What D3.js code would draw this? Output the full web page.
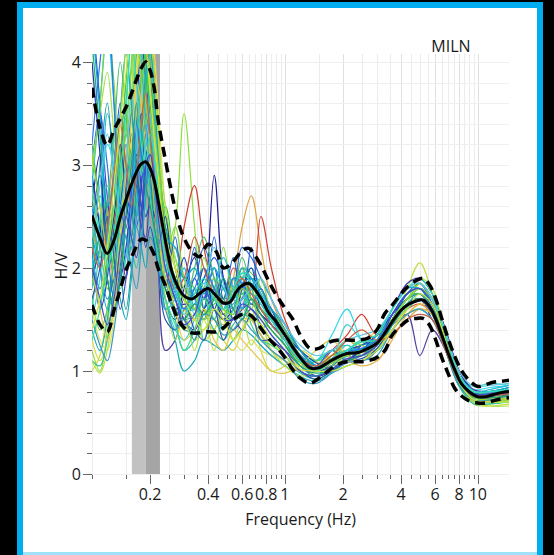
<!DOCTYPE html>
<html><head><meta charset="utf-8">
<script src="https://cdn.jsdelivr.net/npm/d3@7"></script>
<style>html,body{margin:0;padding:0;background:#000;}svg{display:block;}</style>
</head><body>
<script>
// ---------- DATA ----------
const freqs = [0.10,0.11,0.12,0.13,0.14,0.15,0.16,0.17,0.18,0.19,0.20,0.21,0.22,0.24,0.26,0.28,0.30,0.33,0.36,0.40,0.44,0.48,0.52,0.56,0.60,0.65,0.70,0.76,0.82,0.90,1.0,1.1,1.2,1.35,1.5,1.7,1.9,2.1,2.4,2.7,3.0,3.3,3.6,4.0,4.4,4.8,5.2,5.6,6.0,6.5,7.0,7.6,8.2,9.0,10,11,12,13.2,14.5];
const meanHV = [2.51,2.29,2.14,2.27,2.49,2.66,2.81,2.93,3.01,3.03,2.97,2.85,2.66,2.27,1.96,1.81,1.73,1.70,1.75,1.80,1.73,1.66,1.67,1.77,1.83,1.85,1.79,1.69,1.57,1.48,1.35,1.23,1.13,1.03,1.03,1.09,1.14,1.17,1.18,1.22,1.27,1.37,1.48,1.59,1.65,1.68,1.69,1.63,1.52,1.35,1.18,1.01,0.88,0.80,0.75,0.75,0.77,0.79,0.80];
const upperHV = [3.75,3.36,3.19,3.34,3.45,3.56,3.69,3.83,3.94,4.00,3.92,3.75,3.44,3.05,2.71,2.45,2.29,2.16,2.11,2.23,2.16,2.00,2.03,2.10,2.17,2.19,2.12,2.01,1.88,1.74,1.61,1.50,1.35,1.22,1.22,1.28,1.30,1.30,1.30,1.32,1.40,1.56,1.64,1.75,1.83,1.88,1.90,1.84,1.72,1.51,1.32,1.14,1.01,0.91,0.85,0.87,0.89,0.90,0.91];
const lowerHV = [1.64,1.45,1.38,1.59,1.79,1.98,2.10,2.21,2.28,2.27,2.21,2.13,2.00,1.83,1.64,1.50,1.42,1.37,1.37,1.38,1.38,1.42,1.48,1.52,1.55,1.55,1.50,1.40,1.32,1.24,1.13,1.01,0.93,0.88,0.93,1.01,1.07,1.09,1.09,1.10,1.13,1.20,1.35,1.44,1.50,1.51,1.51,1.45,1.32,1.13,0.98,0.83,0.76,0.71,0.69,0.69,0.71,0.73,0.74];

const windowFreqs = [0.10,0.11,0.12,0.13,0.14,0.15,0.16,0.17,0.18,0.19,0.20,0.22,0.24,0.27,0.30,0.34,0.38,0.43,0.48,0.54,0.60,0.67,0.75,0.85,1.0,1.2,1.45,1.75,2.1,2.5,3.0,3.6,4.3,5.0,5.8,6.8,8.0,9.5,11.5,14.5];
const windowColors = ["#2040c0","#20b8e0","#40c840","#90e040","#1a1a90","#20a0a0","#d8d840","#e0a040","#d04030","#40d0d0",
  "#3070e0","#30c080","#c0e040","#1a2a9a","#20b060","#5040a0","#10c0f0","#50d050","#2090c0","#e0e060",
  "#2850d0","#30c0a0","#30d8e8","#60d060","#3a3ab0","#e8b850","#18a8b8","#a8e050","#2aa0e0","#40c860",
  "#2060d0","#38c8b0","#80d840","#1838a8","#b8e048","#28b8d8","#50c070","#3050b8","#e0c848","#10a8d0",
  "#40d890","#2878e8","#98d838","#3898c0","#60c8e0","#20a070","#c86040","#30e0c0","#4848c8","#d0e838"];
const windowHV = [
[2.2,1.6,1.9,3.0,3.6,2.8,2.5,3.4,4.2,3.8,3.0,2.1,1.9,1.7,1.5,1.9,1.7,2.0,1.6,1.8,2.0,1.7,1.6,1.45,1.3,1.1,1.0,1.12,1.2,1.15,1.25,1.5,1.7,1.75,1.6,1.2,0.9,0.75,0.74,0.78],
[1.8,2.4,3.5,3.1,2.2,2.6,3.3,3.0,2.6,3.2,4.3,3.0,2.2,1.8,2.0,1.6,1.5,1.9,1.8,1.6,1.9,2.0,1.8,1.6,1.4,1.2,1.05,1.0,1.15,1.25,1.3,1.45,1.62,1.7,1.55,1.3,0.95,0.8,0.78,0.82],
[3.2,2.6,2.0,2.3,3.1,3.8,4.5,4.8,4.2,3.5,3.0,2.4,2.6,2.0,1.7,1.5,1.9,1.6,1.5,1.9,1.7,1.9,1.8,1.5,1.3,1.05,1.1,1.2,1.1,1.2,1.3,1.55,1.75,1.8,1.6,1.25,0.88,0.72,0.72,0.76],
[1.2,1.0,1.4,2.2,2.8,3.4,3.9,4.6,5.0,4.4,3.6,2.8,2.0,2.4,3.5,2.4,1.6,1.4,1.7,1.5,1.8,1.7,1.5,1.4,1.25,1.0,0.95,1.05,1.3,1.2,1.2,1.4,1.6,1.85,1.7,1.3,0.9,0.7,0.68,0.72],
[2.6,3.1,2.5,1.8,2.2,2.9,3.3,2.7,2.4,3.0,3.4,2.3,1.7,1.5,1.8,2.1,1.7,2.9,1.9,1.6,1.7,1.9,1.8,1.6,1.35,1.15,1.0,1.1,1.15,1.1,1.2,1.5,1.65,1.7,1.5,1.3,0.95,0.8,0.8,0.84],
[2.0,3.0,3.6,2.8,2.0,1.6,2.0,2.7,3.3,3.6,3.2,2.5,2.0,1.6,1.4,1.4,1.6,1.8,1.7,1.5,1.6,1.7,1.6,1.5,1.3,1.1,1.0,1.05,1.1,1.2,1.3,1.5,1.7,1.8,1.65,1.3,0.92,0.76,0.75,0.8],
[1.3,1.1,1.3,1.9,2.6,3.1,3.6,4.0,4.4,4.6,4.2,3.2,2.4,1.8,1.5,1.3,1.4,1.5,1.3,1.2,1.4,1.6,1.2,1.0,1.05,1.2,1.1,1.0,1.2,1.25,1.4,1.5,1.55,1.65,1.6,1.35,1.0,0.8,0.72,0.7],
[2.4,2.1,2.5,3.0,2.8,2.4,2.6,3.2,3.6,3.3,2.8,2.2,1.9,2.2,1.9,1.7,2.0,1.7,1.6,1.9,2.4,2.7,2.2,1.7,1.4,1.15,1.0,1.1,1.3,1.2,1.1,1.35,1.5,1.6,1.55,1.2,0.88,0.75,0.78,0.82],
[2.8,2.4,2.0,2.4,3.0,3.5,3.2,2.8,3.1,3.8,4.4,3.4,2.3,1.9,2.4,2.8,2.2,1.8,1.7,2.0,1.9,1.8,2.5,2.0,1.5,1.2,1.05,1.2,1.35,1.55,1.35,1.45,1.6,1.65,1.55,1.2,0.88,0.74,0.74,0.78],
[1.5,1.9,2.6,2.2,1.8,2.1,2.8,3.4,3.0,2.6,2.4,2.0,1.7,1.4,1.3,1.5,1.8,1.6,1.4,1.6,1.8,1.6,1.5,1.35,1.2,1.0,0.95,1.1,1.45,1.3,1.25,1.5,1.7,1.75,1.6,1.3,0.95,0.85,0.88,0.86],
[3.0,3.5,3.0,2.4,2.6,3.2,2.9,2.5,2.8,3.3,3.0,2.6,2.4,2.0,1.8,1.9,2.2,1.9,1.7,1.8,2.2,2.1,1.9,1.7,1.45,1.2,1.05,1.05,1.1,1.15,1.3,1.6,1.8,1.85,1.65,1.25,0.9,0.75,0.75,0.8],
[2.2,2.7,2.3,2.0,2.4,3.0,3.5,4.1,4.6,4.0,3.2,2.5,2.1,1.9,1.6,1.8,1.6,1.5,1.8,1.7,1.6,1.8,1.7,1.6,1.4,1.1,0.95,1.0,1.1,1.2,1.25,1.45,1.7,1.75,1.55,1.2,0.85,0.7,0.72,0.75],
[1.0,1.15,1.6,2.0,2.3,2.6,3.2,3.8,4.3,4.8,4.5,3.4,2.2,1.6,1.4,1.5,1.3,1.4,1.6,1.4,1.5,1.5,1.35,1.25,1.2,1.0,0.92,1.0,1.1,1.1,1.2,1.45,1.8,2.05,1.75,1.3,0.9,0.68,0.66,0.68],
[2.9,2.4,1.9,1.6,1.9,2.6,3.1,2.9,2.6,2.8,2.9,2.3,1.8,1.6,1.65,1.6,1.5,1.7,1.5,1.6,1.8,1.7,1.55,1.45,1.3,1.1,1.0,1.1,1.2,1.15,1.25,1.5,1.7,1.8,1.7,1.4,1.0,0.8,0.76,0.76],
[4.2,3.3,2.4,2.0,2.5,3.0,2.7,2.5,3.0,3.7,4.2,3.0,2.4,2.0,1.7,1.6,1.7,1.6,1.55,1.7,1.75,1.8,1.7,1.55,1.35,1.15,1.05,1.15,1.2,1.25,1.3,1.5,1.65,1.7,1.6,1.3,0.95,0.78,0.77,0.8],
[2.1,1.8,2.1,2.6,2.3,1.9,2.3,2.8,2.4,2.3,2.7,2.0,1.2,1.3,1.6,1.7,1.5,1.6,1.5,1.4,1.5,1.6,1.45,1.3,1.2,1.05,0.95,1.0,1.1,1.2,1.3,1.45,1.55,1.15,1.4,1.2,0.88,0.72,0.7,0.74],
[2.8,3.6,4.3,3.6,2.7,2.3,2.6,3.2,3.8,4.0,3.4,2.6,2.1,1.8,1.6,1.6,1.9,2.0,1.8,1.7,1.9,1.9,1.75,1.6,1.4,1.2,1.1,1.2,1.25,1.2,1.3,1.55,1.75,1.8,1.7,1.35,0.95,0.8,0.8,0.84],
[1.7,1.4,1.6,2.2,2.9,3.6,4.3,4.9,4.6,3.8,3.1,2.3,1.9,1.7,1.9,1.8,1.5,1.65,1.7,1.9,1.9,1.7,1.6,1.5,1.3,1.1,1.05,1.1,1.2,1.3,1.35,1.5,1.7,1.75,1.6,1.25,0.9,0.74,0.72,0.74],
[2.3,2.0,1.7,1.9,2.5,3.0,3.3,2.9,2.6,2.9,3.1,2.6,2.1,1.7,1.5,1.55,1.7,1.75,1.6,1.55,1.7,1.75,1.65,1.5,1.3,1.05,0.95,1.05,1.15,1.1,1.2,1.45,1.6,1.7,1.6,1.3,0.93,0.78,0.78,0.82],
[1.6,1.3,1.2,1.5,2.0,2.6,3.2,3.9,4.5,4.9,4.6,3.6,2.6,2.0,1.8,1.6,1.5,1.6,1.5,1.3,1.2,1.3,1.2,1.15,1.1,1.05,1.0,1.05,1.1,1.15,1.25,1.45,1.6,1.7,1.6,1.3,0.95,0.8,0.76,0.74],
[4.5,3.6,2.7,2.3,2.6,2.9,2.6,2.4,2.8,3.5,3.8,2.9,2.3,1.9,1.8,1.7,1.9,2.1,1.9,1.7,1.85,1.9,1.8,1.6,1.4,1.15,1.02,1.08,1.15,1.2,1.25,1.5,1.75,1.85,1.7,1.3,0.92,0.76,0.76,0.8],
[1.1,1.05,1.3,1.8,2.2,2.4,2.2,2.0,2.3,2.8,3.2,2.6,1.9,1.5,1.2,1.3,1.55,1.4,1.3,1.45,1.55,1.5,1.35,1.2,1.1,0.98,0.92,1.0,1.1,1.15,1.2,1.4,1.55,1.6,1.5,1.2,0.85,0.68,0.68,0.7],
[2.0,2.5,3.2,3.0,2.5,2.8,3.6,4.3,4.0,3.4,2.8,2.2,2.0,1.9,1.7,1.75,1.85,1.8,1.65,1.75,1.95,1.9,1.7,1.5,1.35,1.15,1.1,1.35,1.6,1.3,1.2,1.45,1.7,1.8,1.65,1.3,0.95,0.82,0.84,0.86],
[2.7,2.2,1.8,2.1,2.7,3.3,3.0,2.6,3.0,3.6,3.9,3.1,2.5,2.1,1.9,2.0,1.8,1.7,1.7,1.8,2.0,1.95,1.8,1.6,1.4,1.2,1.1,1.15,1.2,1.2,1.3,1.55,1.75,1.8,1.65,1.3,0.92,0.76,0.75,0.78],
[1.9,2.2,2.6,2.3,1.9,2.2,2.7,3.1,2.8,2.5,2.6,2.4,2.2,1.8,1.5,1.4,1.6,1.7,1.55,1.5,1.6,1.65,1.55,1.45,1.3,1.1,1.0,1.05,1.2,1.25,1.35,1.6,1.85,1.9,1.75,1.4,1.0,0.82,0.8,0.8],
[2.3,2.6,2.2,1.9,2.1,2.5,3.0,3.5,3.9,3.6,3.1,2.4,2.0,1.8,1.6,1.5,1.6,1.5,1.45,1.5,1.6,1.5,1.35,1.2,1.1,1.0,1.05,1.15,1.1,1.05,1.1,1.3,1.55,1.65,1.55,1.25,0.9,0.75,0.74,0.76],
[1.4,1.2,1.5,2.0,1.7,1.5,1.9,2.4,2.2,2.0,2.3,2.1,1.7,1.3,1.0,1.1,1.3,1.25,1.2,1.3,1.4,1.35,1.25,1.15,1.05,0.95,0.9,0.98,1.05,1.1,1.2,1.4,1.6,1.7,1.6,1.3,0.92,0.78,0.8,0.84],
[3.0,3.5,3.9,3.3,2.8,3.1,3.6,4.2,4.7,5.0,4.4,3.3,2.6,2.1,1.8,1.7,1.8,1.9,1.8,1.7,1.85,1.8,1.7,1.55,1.35,1.12,1.02,1.08,1.12,1.18,1.28,1.5,1.7,1.8,1.6,1.25,0.88,0.72,0.72,0.75],
[2.6,2.0,1.6,1.8,2.4,2.3,2.0,2.5,3.2,3.5,3.3,2.7,2.2,1.75,1.6,1.65,1.75,1.7,1.65,1.65,1.8,1.85,1.7,1.5,1.3,1.08,1.0,1.12,1.2,1.22,1.3,1.55,1.7,1.75,1.6,1.25,0.9,0.76,0.76,0.8],
[1.9,1.7,2.0,2.5,3.0,3.3,3.1,3.0,3.4,3.9,3.6,2.8,2.2,1.85,1.7,1.75,1.8,1.7,1.6,1.7,1.75,1.7,1.6,1.5,1.35,1.15,1.05,1.12,1.15,1.2,1.3,1.5,1.65,1.7,1.6,1.28,0.94,0.78,0.77,0.8],
[2.4,2.9,2.2,1.7,2.0,2.8,3.5,3.0,2.5,3.0,3.6,2.7,1.8,2.3,1.7,2.2,1.6,2.3,1.7,2.1,1.6,2.2,1.7,1.6,1.3,1.15,1.05,1.2,1.1,1.25,1.3,1.5,1.75,1.8,1.6,1.25,0.9,0.75,0.75,0.8],
[1.6,2.2,2.8,2.4,2.0,2.5,3.1,2.7,2.3,2.7,3.3,2.4,1.6,1.9,1.4,1.8,1.3,1.7,1.4,1.9,1.5,1.8,1.4,1.5,1.25,1.05,1.0,1.1,1.25,1.15,1.25,1.55,1.7,1.75,1.6,1.3,0.95,0.8,0.8,0.82],
[2.9,3.6,4.4,3.8,3.0,3.3,4.0,4.6,4.2,3.6,3.4,2.9,2.1,2.4,1.9,1.6,2.1,1.8,2.2,1.7,2.0,1.6,1.9,1.55,1.3,1.1,1.02,1.15,1.3,1.25,1.2,1.5,1.7,1.85,1.7,1.3,0.9,0.72,0.7,0.72],
[4.0,3.1,2.2,2.5,3.2,2.7,2.3,2.9,3.5,3.2,2.8,2.2,2.5,1.8,2.1,1.7,2.0,1.6,1.9,1.5,1.8,2.0,1.6,1.5,1.35,1.2,1.08,1.02,1.1,1.2,1.35,1.55,1.7,1.75,1.6,1.3,0.95,0.8,0.78,0.8],
[1.1,0.98,1.2,1.7,2.4,3.0,3.7,4.4,4.9,4.5,3.8,2.7,1.7,1.3,1.6,1.2,1.5,1.2,1.6,1.3,1.5,1.25,1.45,1.2,1.05,0.95,1.0,1.1,1.2,1.15,1.25,1.4,1.65,1.9,1.8,1.35,0.92,0.7,0.66,0.66],
[2.1,1.8,2.3,2.9,2.5,2.1,2.6,3.3,3.9,3.4,2.8,2.0,1.6,1.7,2.0,1.7,1.5,1.8,2.1,1.8,1.6,1.9,1.75,1.45,1.3,1.1,1.0,1.1,1.2,1.3,1.3,1.45,1.65,1.75,1.65,1.35,0.96,0.8,0.82,0.86],
[2.5,2.1,2.6,3.3,4.0,3.5,2.9,3.3,3.9,4.5,4.0,2.9,2.2,1.9,1.6,2.0,2.3,1.9,1.6,1.75,2.1,1.8,1.6,1.5,1.4,1.15,1.05,1.1,1.15,1.2,1.3,1.5,1.7,1.75,1.6,1.25,0.9,0.76,0.74,0.76],
[1.7,2.0,2.5,2.1,1.6,1.9,2.5,2.9,2.6,2.2,2.4,2.0,1.5,1.4,1.7,1.4,1.3,1.6,1.3,1.5,1.4,1.55,1.3,1.3,1.15,1.0,0.92,1.0,1.1,1.12,1.22,1.45,1.65,1.7,1.55,1.25,0.9,0.76,0.76,0.78],
[2.0,1.6,1.3,1.6,2.2,2.9,3.4,3.8,3.6,3.2,3.0,2.3,1.9,1.6,1.3,1.4,1.6,1.3,1.2,1.4,1.3,1.2,1.1,1.0,0.98,1.05,1.2,1.3,1.15,1.1,1.25,1.4,1.55,1.6,1.55,1.3,0.95,0.78,0.74,0.72],
[4.4,3.5,2.6,2.8,3.5,4.1,3.6,3.0,3.3,3.9,4.1,3.1,2.3,2.2,1.9,2.0,1.75,2.0,1.8,1.7,2.0,1.9,1.7,1.6,1.45,1.2,1.05,1.1,1.2,1.2,1.35,1.6,1.8,1.8,1.65,1.3,0.93,0.78,0.78,0.82],
[1.3,1.6,2.1,2.6,2.3,2.0,2.3,2.9,3.4,3.1,2.7,2.1,1.7,1.45,1.2,1.4,1.7,1.5,1.4,1.6,1.75,1.45,1.3,1.25,1.15,1.0,0.95,1.05,1.2,1.28,1.3,1.5,1.7,1.8,1.65,1.3,0.94,0.8,0.78,0.8],
[3.2,4.0,4.6,3.6,2.6,2.4,2.8,3.4,3.1,2.8,3.1,2.7,2.3,1.8,1.6,1.8,2.0,1.8,1.6,1.9,1.85,1.65,1.8,1.55,1.35,1.15,1.02,1.08,1.18,1.22,1.3,1.55,1.75,1.8,1.7,1.35,0.95,0.78,0.77,0.8],
[3.1,2.6,2.2,2.6,3.4,4.2,4.8,4.4,3.8,3.4,3.6,3.0,2.3,1.9,1.7,1.6,1.5,1.7,1.6,1.55,1.8,1.7,1.5,1.4,1.25,1.08,1.0,1.08,1.15,1.2,1.25,1.5,1.7,1.8,1.7,1.35,0.95,0.75,0.72,0.74],
[1.5,1.25,1.1,1.4,1.9,2.3,2.0,1.8,2.2,2.7,3.0,2.3,1.6,1.4,1.5,1.3,1.55,1.5,1.35,1.4,1.5,1.4,1.3,1.2,1.1,0.92,0.88,0.98,1.08,1.1,1.15,1.4,1.55,1.6,1.5,1.2,0.86,0.72,0.72,0.76],
[2.3,2.8,3.3,2.9,2.6,3.0,3.7,3.3,2.9,3.2,3.5,2.6,2.0,1.75,1.9,1.55,1.8,2.2,1.85,1.6,1.7,1.8,1.9,1.7,1.45,1.25,1.15,1.2,1.3,1.35,1.4,1.6,1.8,1.85,1.7,1.38,1.0,0.85,0.86,0.88],
[1.9,2.3,1.9,1.6,1.9,2.5,3.0,3.6,3.2,2.8,2.6,2.2,1.8,1.6,1.5,1.65,1.55,1.7,1.9,1.6,1.5,1.7,1.55,1.4,1.25,1.05,0.98,1.02,1.1,1.15,1.25,1.45,1.65,1.7,1.6,1.3,0.92,0.75,0.74,0.76],
[2.2,2.0,2.4,2.9,3.4,3.0,2.6,2.9,3.4,3.7,3.3,2.6,2.2,1.8,1.9,2.3,2.0,1.75,1.65,1.8,1.9,1.75,1.6,1.45,1.3,1.12,1.05,1.15,1.3,1.4,1.3,1.35,1.5,1.55,1.5,1.2,0.9,0.76,0.76,0.78],
[2.8,2.3,2.0,2.3,2.9,3.5,4.2,3.8,3.2,3.0,3.3,2.8,2.1,1.8,1.55,1.75,1.9,1.7,1.6,1.8,1.95,1.85,1.65,1.5,1.3,1.1,1.0,1.1,1.2,1.3,1.35,1.6,1.8,1.9,1.75,1.35,0.95,0.8,0.8,0.82],
[2.0,1.7,1.45,1.7,2.2,2.5,2.3,2.1,2.5,3.0,3.1,2.5,2.0,1.7,1.45,1.55,1.8,1.6,1.5,1.5,1.65,1.6,1.5,1.35,1.2,1.0,0.95,1.02,1.12,1.15,1.25,1.55,1.75,1.8,1.65,1.3,0.92,0.78,0.78,0.8],
[1.4,1.7,2.2,2.8,3.4,3.9,4.4,4.9,4.7,4.2,3.7,2.9,2.3,2.0,1.7,1.5,1.4,1.6,1.5,1.3,1.4,1.5,1.45,1.3,1.15,1.02,1.0,1.0,1.05,1.1,1.2,1.4,1.6,1.75,1.65,1.3,0.9,0.72,0.7,0.7]
];
const peakBand = [0.161, 0.190, 0.225];   // f0 - std, f0, f0 + std
const xTickLabels = [0.2, 0.4, 0.6, 0.8, 1, 2, 4, 6, 8, 10];
const yTickLabels = [0, 1, 2, 3, 4];
const stationName = "MILN";

// ---------- LAYOUT ----------
const W = 554, H = 555;
const plot = {left: 92, right: 509, top: 54, bottom: 474};
const svg = d3.select("body").append("svg").attr("width", W).attr("height", H);
const font = "'Open Sans', 'Noto Sans', sans-serif";
const fs = 16;

svg.append("rect").attr("width", W).attr("height", H).attr("fill", "#000");
svg.append("rect").attr("x", 17).attr("y", 2).attr("width", 526).attr("height", 553).attr("fill", "#00aeef");
svg.append("rect").attr("x", 23).attr("y", 8).attr("width", 514).attr("height", 544).attr("fill", "#fff");
svg.append("rect").attr("x", 23).attr("y", 552).attr("width", 514).attr("height", 3).attr("fill", "#9fe3fa");

const x = d3.scaleLog().domain([0.1, 14.5]).range([plot.left, plot.right]);
const y = d3.scaleLinear().domain([0, 4]).range([474, 62]);

const minorX = [];
for (let v = 0.10; v < 0.999; v += 0.05) minorX.push(+v.toFixed(2));
for (let v = 1; v < 9.99; v += 0.5) minorX.push(+v.toFixed(1));
minorX.push(10);
const minorY = d3.range(0, 4.01, 0.2).map(v => +v.toFixed(1));

const grid = svg.append("g");
grid.selectAll(".vg").data(minorX).join("line")
  .attr("x1", d => Math.round(x(d)) + 0.5).attr("x2", d => Math.round(x(d)) + 0.5)
  .attr("y1", plot.top).attr("y2", plot.bottom)
  .attr("stroke", d => xTickLabels.includes(d) ? "#e0e0e0" : "#ececec").attr("stroke-width", 1);
grid.selectAll(".hg").data(minorY).join("line")
  .attr("x1", plot.left).attr("x2", plot.right)
  .attr("y1", d => Math.round(y(d)) + 0.5).attr("y2", d => Math.round(y(d)) + 0.5)
  .attr("stroke", "#efefef").attr("stroke-width", 1);

svg.append("rect").attr("x", x(peakBand[0])).attr("y", plot.top)
  .attr("width", x(peakBand[1]) - x(peakBand[0])).attr("height", plot.bottom - plot.top).attr("fill", "#c2c2c2");
svg.append("rect").attr("x", x(peakBand[1])).attr("y", plot.top)
  .attr("width", x(peakBand[2]) - x(peakBand[1])).attr("height", plot.bottom - plot.top).attr("fill", "#a5a5a5");

svg.append("clipPath").attr("id", "clip").append("rect")
  .attr("x", plot.left).attr("y", plot.top).attr("width", plot.right - plot.left).attr("height", plot.bottom - plot.top);
const curves = svg.append("g").attr("clip-path", "url(#clip)");

const line = d3.line().x(d => x(d[0])).y(d => y(d[1])).curve(d3.curveCatmullRom.alpha(0.5));

windowHV.forEach((vals, i) => {
  curves.append("path").datum(windowFreqs.map((f, j) => [f, vals[j]]))
    .attr("d", line).attr("fill", "none").attr("stroke", windowColors[i]).attr("stroke-width", 1.2);
});

[upperHV, lowerHV].forEach(vals => {
  curves.append("path").datum(freqs.map((f, j) => [f, vals[j]]))
    .attr("d", line).attr("fill", "none").attr("stroke", "#000").attr("stroke-width", 3.5)
    .attr("stroke-dasharray", "10,6");
});
curves.append("path").datum(freqs.map((f, j) => [f, meanHV[j]]))
  .attr("d", line).attr("fill", "none").attr("stroke", "#000").attr("stroke-width", 3);

const ax = svg.append("g");
ax.selectAll(".xt").data(minorX).join("line")
  .attr("x1", d => Math.round(x(d)) + 0.5).attr("x2", d => Math.round(x(d)) + 0.5)
  .attr("y1", 475).attr("y2", d => xTickLabels.includes(d) ? 484 : 479)
  .attr("stroke", "#666").attr("stroke-width", 1);
ax.selectAll(".xl").data(xTickLabels).join("text")
  .attr("x", d => x(d)).attr("y", 500).attr("text-anchor", "middle")
  .attr("font-family", font).attr("font-size", fs).attr("fill", "#1a1a1a").text(d => d);

ax.selectAll(".yt").data(minorY).join("line")
  .attr("x1", d => Number.isInteger(d) ? 83 : 87).attr("x2", 92)
  .attr("y1", d => Math.round(y(d)) + 0.5).attr("y2", d => Math.round(y(d)) + 0.5)
  .attr("stroke", "#666").attr("stroke-width", 1);
ax.selectAll(".yl").data(yTickLabels).join("text")
  .attr("x", 81).attr("y", d => y(d) + 6).attr("text-anchor", "end")
  .attr("font-family", font).attr("font-size", fs).attr("fill", "#1a1a1a").text(d => d);

svg.append("text").attr("x", (plot.left + plot.right) / 2).attr("y", 525).attr("text-anchor", "middle")
  .attr("font-family", font).attr("font-size", fs).attr("fill", "#1a1a1a").text("Frequency (Hz)");
svg.append("text").attr("transform", "translate(67,266) rotate(-90)").attr("text-anchor", "middle")
  .attr("font-family", font).attr("font-size", fs).attr("fill", "#1a1a1a").text("H/V");
svg.append("text").attr("x", 451).attr("y", 52).attr("text-anchor", "middle")
  .attr("font-family", font).attr("font-size", fs).attr("fill", "#1a1a1a").text(stationName);
</script>
</body></html>
